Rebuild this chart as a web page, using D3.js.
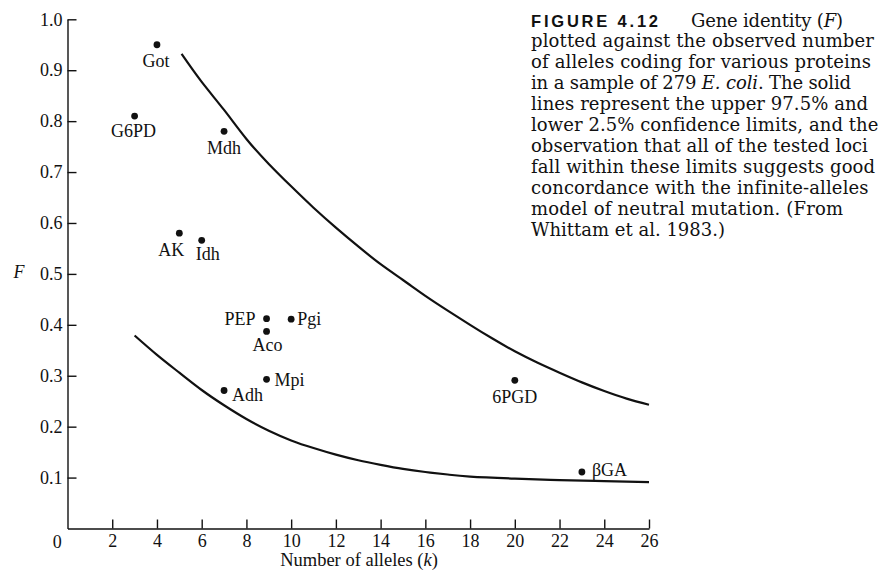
<!DOCTYPE html>
<html>
<head>
<meta charset="utf-8">
<script src="https://cdn.jsdelivr.net/npm/d3@7/dist/d3.min.js"></script>
<style>
  body { margin: 0; background: #fff; }
  svg { display: block; }
  .serif { font-family: "Liberation Serif", "Times New Roman", serif; fill: #111; }
  .cap { font-family: "DejaVu Serif", serif; fill: #111; }
</style>
</head>
<body>
<svg id="chart" width="883" height="578"></svg>
<script>
// loci from Whittam et al. 1983
var loci = ["Got", "G6PD", "Mdh", "AK", "Idh", "PEP", "Aco", "Pgi", "Mpi", "Adh", "6PGD", "βGA"];
var alleles = [4, 3, 7, 5, 6, 8.9, 8.9, 10, 8.9, 7, 20, 23];
var identity = [0.95, 0.81, 0.78, 0.58, 0.566, 0.412, 0.387, 0.411, 0.293, 0.271, 0.291, 0.111];

// upper 97.5% limit
var upperK = [5.1, 6, 7, 8, 9, 10, 11, 12, 13, 14, 15, 16, 17, 18, 19, 20, 21, 22, 23, 24, 25, 26];
var upperF = [0.932, 0.877, 0.822, 0.765, 0.716, 0.672, 0.630, 0.591, 0.554, 0.519, 0.488, 0.457,
  0.428, 0.400, 0.373, 0.348, 0.326, 0.306, 0.287, 0.270, 0.255, 0.243];

// lower 2.5% limit
var lowerK = [3, 4, 5, 6, 7, 8, 9, 10, 11, 12, 13, 14, 15, 16, 17, 18, 20, 22, 24, 26];
var lowerF = [0.379, 0.341, 0.306, 0.272, 0.242, 0.215, 0.192, 0.173, 0.158, 0.145, 0.134, 0.125,
  0.117, 0.111, 0.106, 0.102, 0.098, 0.095, 0.093, 0.091];

var xTicks = [2, 4, 6, 8, 10, 12, 14, 16, 18, 20, 22, 24, 26];
var yTicks = [0.1, 0.2, 0.3, 0.4, 0.5, 0.6, 0.7, 0.8, 0.9, 1.0];

var caption = [
  "plotted against the observed number",
  "of alleles coding for various proteins",
  null,
  "lines represent the upper 97.5% and",
  "lower 2.5% confidence limits, and the",
  "observation that all of the tested loci",
  "fall within these limits suggests good",
  "concordance with the infinite-alleles",
  "model of neutral mutation. (From",
  "Whittam et al. 1983.)"
];

// label placement around each dot
var labelPos = {
  "Got":  { dx: -1, dy: 22, anchor: "middle" },
  "G6PD": { dx: -1, dy: 21, anchor: "middle" },
  "Mdh":  { dx: 0, dy: 22.5, anchor: "middle" },
  "AK":   { dx: -8, dy: 23, anchor: "middle" },
  "Idh":  { dx: 6, dy: 20, anchor: "middle" },
  "PEP":  { dx: -11, dy: 6, anchor: "end" },
  "Aco":  { dx: 1, dy: 20, anchor: "middle" },
  "Pgi":  { dx: 6, dy: 6, anchor: "start" },
  "Mpi":  { dx: 8, dy: 7, anchor: "start" },
  "Adh":  { dx: 8, dy: 10, anchor: "start" },
  "6PGD": { dx: 0, dy: 22.5, anchor: "middle" },
  "βGA":  { dx: 10, dy: 4, anchor: "start" }
};

var svg = d3.select("#chart");

var x = d3.scaleLinear().domain([0, 26]).range([67.5, 649]);
var y = d3.scaleLinear().domain([0, 1]).range([528.5, 19.3]);

var xAxis = d3.axisBottom(x)
  .tickValues(xTicks)
  .tickSizeInner(-9)
  .tickSizeOuter(0)
  .tickPadding(6)
  .tickFormat(d3.format("d"));

var yAxis = d3.axisLeft(y)
  .tickValues(yTicks)
  .tickSizeInner(-9)
  .tickSizeOuter(0)
  .tickPadding(5)
  .tickFormat(d3.format(".1f"));

var gx = svg.append("g")
  .attr("transform", "translate(0," + y(0) + ")")
  .call(xAxis);

var gy = svg.append("g")
  .attr("transform", "translate(" + x(0) + ",0)")
  .call(yAxis);

[gx, gy].forEach(function (g) {
  g.selectAll("path, line").attr("stroke", "#111").attr("stroke-width", 1.4);
  g.selectAll("text")
    .attr("class", "serif")
    .attr("fill", "#111")
    .style("font-size", "18px");
});

svg.append("text")
  .attr("class", "serif")
  .attr("x", 57.3)
  .attr("y", 547.5)
  .attr("text-anchor", "middle")
  .style("font-size", "18px")
  .text("0");

svg.append("text")
  .attr("class", "serif")
  .attr("x", 359)
  .attr("y", 566)
  .attr("text-anchor", "middle")
  .style("font-size", "18.5px")
  .call(function (t) {
    t.append("tspan").text("Number of alleles (");
    t.append("tspan").style("font-style", "italic").text("k");
    t.append("tspan").text(")");
  });

svg.append("text")
  .attr("class", "serif")
  .attr("x", 19)
  .attr("y", 278)
  .attr("text-anchor", "middle")
  .style("font-size", "18px")
  .style("font-style", "italic")
  .text("F");

// confidence limits
var line = d3.line()
  .x(function (d) { return x(d[0]); })
  .y(function (d) { return y(d[1]); })
  .curve(d3.curveNatural);

[[upperK, upperF], [lowerK, lowerF]].forEach(function (c) {
  svg.append("path")
    .datum(d3.zip(c[0], c[1]))
    .attr("fill", "none")
    .attr("stroke", "#111")
    .attr("stroke-width", 2.2)
    .attr("d", line);
});

// observed loci
var pts = d3.range(loci.length).map(function (i) {
  return { name: loci[i], k: alleles[i], f: identity[i] };
});

svg.selectAll("circle.locus")
  .data(pts)
  .enter().append("circle")
  .attr("class", "locus")
  .attr("cx", function (d) { return x(d.k); })
  .attr("cy", function (d) { return y(d.f); })
  .attr("r", 3.4)
  .attr("fill", "#111");

svg.selectAll("text.locus")
  .data(pts)
  .enter().append("text")
  .attr("class", "serif locus")
  .attr("x", function (d) { return x(d.k) + labelPos[d.name].dx; })
  .attr("y", function (d) { return y(d.f) + labelPos[d.name].dy; })
  .attr("text-anchor", function (d) { return labelPos[d.name].anchor; })
  .style("font-size", "18px")
  .text(function (d) { return d.name; });

// caption, each line squeezed to the width it has in the book
function fit(sel, w) {
  var n = sel.text().length;
  var cur = sel.node().getComputedTextLength();
  sel.attr("letter-spacing", ((w - cur) / (n - 1)).toFixed(2));
}

var capX = 531, capY = 26.5, capStep = 20.95;
var capWidths = [343, 340, 320, 337, 347, 337, 344, 337, 312, 194];

var fig = svg.append("text")
  .attr("x", capX)
  .attr("y", capY)
  .style("font-family", "'Liberation Sans', Arial, sans-serif")
  .style("font-weight", "bold")
  .style("font-size", "16.5px")
  .attr("fill", "#111")
  .text("FIGURE 4.12");
fit(fig, 127);

var first = svg.append("text")
  .attr("class", "cap")
  .attr("x", 691)
  .attr("y", capY)
  .style("font-size", "18px");
first.append("tspan").text("Gene identity (");
first.append("tspan").style("font-style", "italic").text("F");
first.append("tspan").text(")");
fit(first, 152);

caption.forEach(function (txt, i) {
  var t = svg.append("text")
    .attr("class", "cap")
    .attr("x", capX)
    .attr("y", capY + (i + 1) * capStep)
    .style("font-size", "18px");
  if (txt === null) {
    t.append("tspan").text("in a sample of 279 ");
    t.append("tspan").style("font-style", "italic").text("E. coli");
    t.append("tspan").text(". The solid");
  } else {
    t.text(txt);
  }
  fit(t, capWidths[i]);
});
</script>
</body>
</html>
